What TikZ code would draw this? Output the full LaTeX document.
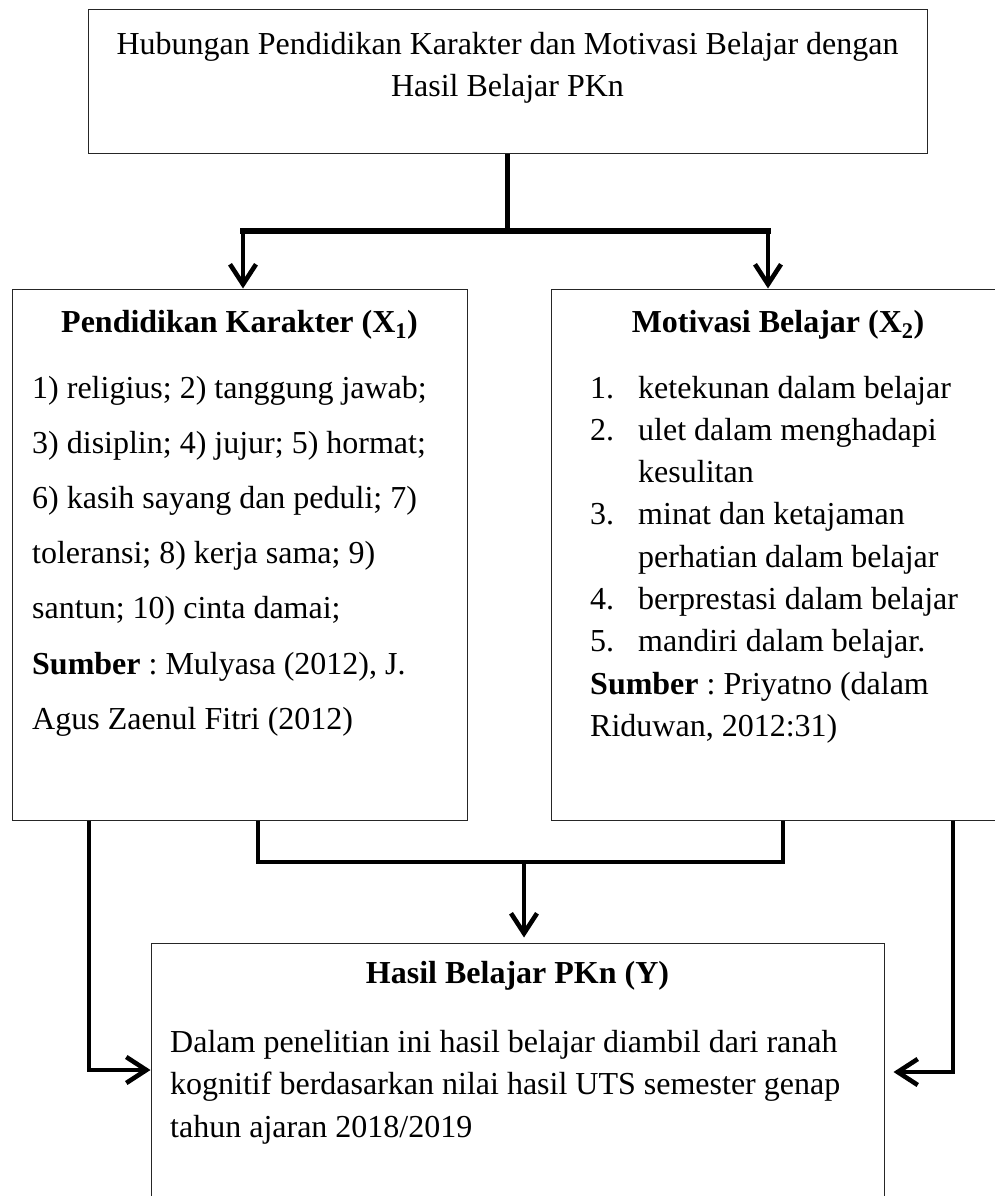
\documentclass[tikz,border=0pt]{standalone}
\usepackage{fontspec}
\setmainfont{Liberation Serif}
\usetikzlibrary{arrows.meta, positioning, calc}
\frenchspacing

\begin{document}
\begin{tikzpicture}[
    x=1pt, y=1pt,
    kotak/.style={draw=black!85, line width=1pt, inner sep=0pt},
    teks/.style={inner sep=0pt, font=\fontsize{32}{38}\selectfont},
    garis/.style={line width=4.6pt},
    panah/.style={garis, -{Straight Barb[length=20pt, width=26pt]}},
]
\path[use as bounding box, fill=white] (0,0) rectangle (995,-1196);

% --- Row A: judul penelitian -------------------------------------------------
\node[kotak, minimum width=839pt, minimum height=143pt] (judul) at (507.5,-81.5) {};
\node[teks, anchor=base] (judulA) at (507.5,-55)
    {Hubungan Pendidikan Karakter dan Motivasi Belajar dengan};
\node[teks, anchor=base] (judulB) at (507.5,-97) {Hasil Belajar PKn};

% --- Row B: dua variabel bebas -------------------------------------------------
\node[kotak, minimum width=455pt, minimum height=531pt] (karakter) at (239.5,-554.5) {};
\node[teks, anchor=base] (karJudul) at (239.5,-332)
    {\textbf{Pendidikan Karakter (X\textsubscript{1})}};
\foreach \baris [count=\i from 0] in {
    {1) religius; 2) tanggung jawab;},
    {3) disiplin; 4) jujur; 5) hormat;},
    {6) kasih sayang dan peduli; 7)},
    {toleransi; 8) kerja sama; 9)},
    {santun; 10) cinta damai;},
    {\textbf{Sumber} : Mulyasa (2012), J.},
    {Agus Zaenul Fitri (2012)}}
  \node[teks, anchor=base west] (kar\i) at (32,-398-55.2*\i) {\baris};

\node[kotak, minimum width=454pt, minimum height=531pt] (motivasi) at (778,-554.5) {};
\node[teks, anchor=base] (motJudul) at (778,-332)
    {\textbf{Motivasi Belajar (X\textsubscript{2})}};
\foreach \no/\butir [count=\i from 0] in {
    1./ketekunan dalam belajar, 2./ulet dalam menghadapi, /kesulitan,
    3./minat dan ketajaman, /perhatian dalam belajar,
    4./berprestasi dalam belajar, 5./mandiri dalam belajar.}
  \node[teks, anchor=base west] (mot\i) at (590,-398-42.3*\i) {\makebox[48pt][l]{\no}\butir};
\node[teks, anchor=base west] (motSumberA) at (590,-694) {\textbf{Sumber} : Priyatno (dalam};
\node[teks, anchor=base west] (motSumberB) at (590,-736) {Riduwan, 2012:31)};

% --- Row C: variabel terikat ---------------------------------------------------
\node[kotak, minimum width=733pt, minimum height=267pt] (hasil) at (517.5,-1076.5) {};
\node[teks, anchor=base] (hasilJudul) at (517.5,-983) {\textbf{Hasil Belajar PKn (Y)}};
\foreach \baris [count=\i from 0] in {
    Dalam penelitian ini hasil belajar diambil dari ranah,
    kognitif berdasarkan nilai hasil UTS semester genap,
    tahun ajaran 2018/2019}
  \node[teks, anchor=base west] (isiHasil\i) at (170,-1052-42.5*\i) {\baris};

% --- connectors ----------------------------------------------------------------
\coordinate (cabang)  at (507.5,-231);
\coordinate (cabangL) at (243,-231);
\coordinate (cabangR) at (768,-231);
\draw[garis] (judul.south) -- (cabang);
\draw[garis, line width=5.6pt, line cap=rect] (cabangL) -- (cabangR);
\draw[panah] (cabangL) -- (cabangL |- karakter.north);
\draw[panah] (cabangR) -- (cabangR |- motivasi.north);

\coordinate (gabungL) at (258,-862);
\coordinate (gabungR) at (783,-862);
\coordinate (gabung)  at (524,-862);
\draw[garis] (gabungL |- karakter.south) -- (gabungL) -- (gabungR) -- (gabungR |- motivasi.south);
\draw[panah, shorten >=5pt] (gabung) -- (gabung |- hasil.north);

\coordinate (sikuL) at (89,-1070);
\coordinate (sikuR) at (953,-1072);
\draw[panah] (sikuL |- karakter.south) -- (sikuL) -- (sikuL -| hasil.west);
\draw[panah, shorten >=9pt] (sikuR |- motivasi.south) -- (sikuR) -- (sikuR -| hasil.east);

\end{tikzpicture}
\end{document}
